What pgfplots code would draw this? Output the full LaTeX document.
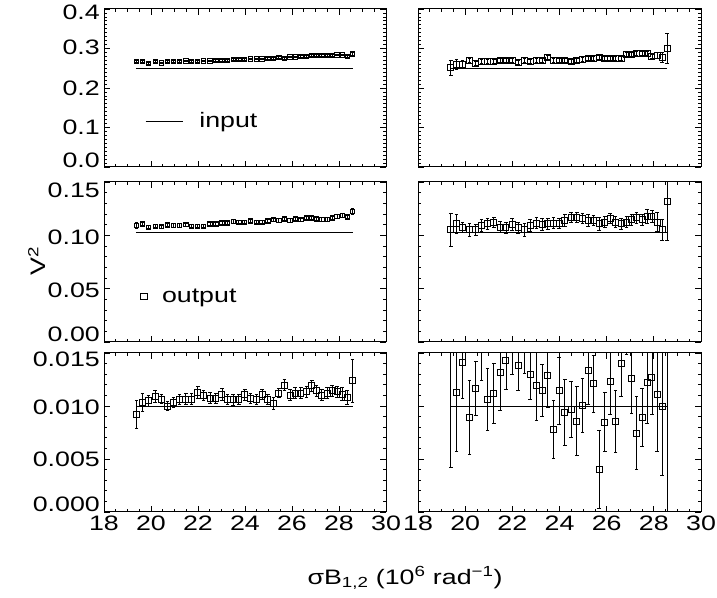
\documentclass[border=0pt]{standalone}
\usepackage{fontspec}
\setmainfont{Liberation Sans}[FakeStretch=1.28]
\usepackage{pgfplots}
\usepackage{pgfplotstable}
\pgfplotsset{compat=1.18}

\newcommand{\tf}{\fontsize{21}{24}\selectfont}
\newcommand{\yl}[2]{\smash{\raisebox{#1}{#2}}}

\pgfplotstableread{
x y e
19.39 0.2667 0.003
19.64 0.2667 0.002
19.89 0.2625 0.002
20.18 0.2667 0.002
20.45 0.2633 0.002
20.70 0.2667 0.002
20.95 0.2667 0.002
21.22 0.2667 0.002
21.48 0.2683 0.002
21.73 0.2667 0.002
21.99 0.2667 0.002
22.24 0.2683 0.002
22.51 0.2683 0.002
22.76 0.2700 0.002
23.02 0.2700 0.002
23.26 0.2700 0.002
23.50 0.2717 0.002
23.74 0.2717 0.002
23.99 0.2717 0.002
24.23 0.2733 0.002
24.49 0.2733 0.002
24.73 0.2733 0.002
24.97 0.2750 0.002
25.21 0.2750 0.002
25.44 0.2767 0.002
25.68 0.2750 0.002
25.92 0.2783 0.002
26.14 0.2783 0.002
26.38 0.2800 0.002
26.61 0.2800 0.002
26.84 0.2817 0.002
27.05 0.2817 0.002
27.27 0.2817 0.002
27.50 0.2817 0.002
27.71 0.2817 0.002
27.92 0.2833 0.002
28.14 0.2833 0.002
28.35 0.2800 0.002
28.57 0.2858 0.003
}\tabTL

\pgfplotstableread{
x y e
19.39 0.2508 0.019
19.64 0.2592 0.0125
19.89 0.2608 0.008
20.18 0.2692 0.005
20.45 0.2625 0.005
20.70 0.2675 0.005
20.95 0.2675 0.005
21.22 0.2667 0.005
21.48 0.2708 0.005
21.73 0.2692 0.005
21.99 0.2692 0.005
22.24 0.2650 0.005
22.51 0.2692 0.005
22.76 0.2667 0.005
23.02 0.2692 0.005
23.26 0.2708 0.005
23.50 0.2775 0.005
23.74 0.2708 0.005
23.99 0.2692 0.005
24.23 0.2692 0.005
24.49 0.2675 0.005
24.73 0.2708 0.005
24.97 0.2717 0.005
25.21 0.2758 0.005
25.44 0.2750 0.005
25.68 0.2775 0.005
25.92 0.2750 0.005
26.14 0.2758 0.005
26.38 0.2758 0.005
26.61 0.2758 0.005
26.84 0.2858 0.005
27.05 0.2858 0.005
27.27 0.2883 0.005
27.50 0.2883 0.005
27.71 0.2883 0.005
27.92 0.2800 0.006
28.14 0.2817 0.008
28.35 0.2775 0.0125
28.57 0.3000 0.038
}\tabTR

\pgfplotstableread{
x y e
19.39 0.1092 0.0025
19.64 0.1108 0.0015
19.89 0.1076 0.0015
20.18 0.1085 0.0015
20.45 0.1082 0.0015
20.70 0.1098 0.0015
20.95 0.1092 0.0015
21.22 0.1092 0.0015
21.48 0.1101 0.0015
21.73 0.1085 0.0015
21.99 0.1085 0.0015
22.24 0.1085 0.0015
22.51 0.1108 0.0015
22.76 0.1108 0.0015
23.02 0.1117 0.0015
23.26 0.1114 0.0015
23.50 0.1130 0.0015
23.74 0.1123 0.0015
23.99 0.1123 0.0015
24.23 0.1133 0.0015
24.49 0.1123 0.0015
24.73 0.1123 0.0015
24.97 0.1133 0.0015
25.21 0.1146 0.0015
25.44 0.1139 0.0015
25.68 0.1155 0.0015
25.92 0.1139 0.0015
26.14 0.1155 0.0015
26.38 0.1146 0.0015
26.61 0.1161 0.0015
26.84 0.1161 0.0015
27.05 0.1155 0.0015
27.27 0.1149 0.0015
27.50 0.1149 0.0015
27.71 0.1161 0.0015
27.92 0.1177 0.0015
28.14 0.1187 0.0015
28.35 0.1171 0.0015
28.57 0.1225 0.0030
}\tabML

\pgfplotstableread{
x y e
19.39 0.10506 0.0158
19.64 0.11076 0.0090
19.89 0.10760 0.0047
20.18 0.10506 0.0063
20.45 0.10506 0.0052
20.70 0.10918 0.0059
20.95 0.11076 0.0052
21.22 0.11171 0.0047
21.48 0.10760 0.0051
21.73 0.10696 0.0051
21.99 0.11013 0.0055
22.24 0.10696 0.0049
22.51 0.10506 0.0057
22.76 0.10918 0.0054
23.02 0.11139 0.0052
23.26 0.11013 0.0055
23.50 0.11076 0.0051
23.74 0.11139 0.0054
23.99 0.11139 0.0047
24.23 0.11393 0.0054
24.49 0.11709 0.0047
24.73 0.11709 0.0047
24.97 0.11551 0.0047
25.21 0.11393 0.0054
25.44 0.11393 0.0051
25.68 0.11076 0.0059
25.92 0.11234 0.0051
26.14 0.11551 0.0047
26.38 0.11234 0.0051
26.61 0.11076 0.0052
26.84 0.11234 0.0054
27.05 0.11456 0.0051
27.27 0.11646 0.0049
27.50 0.11456 0.0052
27.71 0.11773 0.0062
27.92 0.11773 0.0055
28.14 0.11234 0.0087
28.35 0.10506 0.0095
28.57 0.13133 0.0358
}\tabMR

\pgfplotstableread{
x y e
19.39 0.00920 0.00135
19.64 0.01032 0.00088
19.89 0.01048 0.00056
20.18 0.01086 0.00056
20.45 0.01064 0.00043
20.70 0.01000 0.00043
20.95 0.01032 0.00045
21.22 0.01064 0.00048
21.48 0.01064 0.00050
21.73 0.01064 0.00050
21.99 0.01127 0.00057
22.24 0.01096 0.00048
22.51 0.01073 0.00053
22.76 0.01073 0.00048
23.02 0.01111 0.00054
23.26 0.01064 0.00048
23.50 0.01057 0.00056
23.74 0.01064 0.00048
23.99 0.01105 0.00053
24.23 0.01073 0.00048
24.49 0.01064 0.00048
24.73 0.01111 0.00048
24.97 0.01064 0.00048
25.21 0.01022 0.00054
25.44 0.01121 0.00043
25.68 0.01197 0.00053
25.92 0.01102 0.00054
26.14 0.01121 0.00050
26.38 0.01121 0.00050
26.61 0.01134 0.00050
26.84 0.01191 0.00050
27.05 0.01143 0.00050
27.27 0.01102 0.00054
27.50 0.01121 0.00050
27.71 0.01143 0.00050
27.92 0.01134 0.00050
28.14 0.01111 0.00060
28.35 0.01080 0.00070
28.57 0.01239 0.00204
}\tabBL

\pgfplotstableread{
x y e
19.39 0.01600 0.01180
19.64 0.01127 0.00557
19.89 0.01414 0.00340
20.18 0.00892 0.00350
20.45 0.01162 0.00255
20.70 0.01580 0.00340
20.95 0.01064 0.00290
21.22 0.01118 0.00287
21.48 0.01315 0.00353
21.73 0.01430 0.00277
21.99 0.01620 0.00320
22.24 0.01385 0.00240
22.51 0.01580 0.00270
22.76 0.01296 0.00230
23.02 0.01191 0.00325
23.26 0.01150 0.00244
23.50 0.01290 0.00306
23.74 0.00777 0.00276
23.99 0.01143 0.00315
24.23 0.00939 0.00312
24.49 0.00971 0.00264
24.73 0.00857 0.00326
24.97 0.01006 0.00255
25.21 0.01334 0.00318
25.44 0.01210 0.00270
25.68 0.00401 0.00368
25.92 0.00847 0.00279
26.14 0.01229 0.00312
26.38 0.00853 0.00295
26.61 0.01401 0.00315
26.84 0.01800 0.00310
27.05 0.01255 0.00325
27.27 0.00745 0.00342
27.50 0.00895 0.00275
27.71 0.01220 0.00386
27.92 0.01268 0.00344
28.14 0.01111 0.00538
28.35 0.00994 0.00650
28.57 0.01800 0.03000
}\tabBR

\pgfplotsset{
  panel/.style={
    scale only axis, xmin=18, xmax=30, xtick={18,20,...,30}, minor x tick num=3,
    tick align=inside, tick pos=both,
    major tick length=6bp, minor tick length=3bp,
    axis line style={line width=1bp},
    every tick/.style={black, line width=0.7bp},
    tick label style={font=\tf},
    yticklabel style={yshift=-7.5bp, inner sep=1bp, xshift=-3bp},
    xticklabel style={inner sep=2bp, yshift=-2bp},
    /pgf/number format/assume math mode=true,
    scaled y ticks=false, scaled x ticks=false,
    clip=true,
  },
  dat/.style={only marks, black, mark=square, mark size=#1,
    mark options={line width=0.95bp, fill=none},
    error bars/.cd, y dir=both, y explicit,
    error mark options={rotate=90, mark size=1.8bp, line width=0.9bp},
    error bar style={line width=0.9bp}},
  inp/.style={black, line width=0.9bp, no marks},
}

\begin{document}
\begin{tikzpicture}
\path[use as bounding box] (0bp,0bp) rectangle (717bp,598bp);

% ---------- top row ----------
\begin{axis}[panel, at={(104bp,431bp)}, anchor=south west, width=282bp, height=158bp,
  ymin=0, ymax=0.4, ytick={0,0.1,0.2,0.3,0.4}, minor y tick num=9,
  yticklabels={\yl{7bp}{0.0},\yl{0bp}{0.1},\yl{0bp}{0.2},\yl{1bp}{0.3},\yl{-3bp}{0.4}},
  xticklabels={}]
\addplot[inp] coordinates {(19.36,0.25) (28.58,0.25)};
\addplot[dat=2.2bp] table[x=x,y=y,y error=e] {\tabTL};
\addplot[inp] coordinates {(19.77,0.115) (21.35,0.115)};
\node[anchor=base west, inner sep=0, font=\tf] at (axis cs:22.05,0.1008) {input};
\end{axis}
\begin{axis}[panel, at={(418bp,431bp)}, anchor=south west, width=283bp, height=158bp,
  ymin=0, ymax=0.4, ytick={0,0.1,0.2,0.3,0.4}, minor y tick num=9,
  yticklabels={}, xticklabels={}]
\addplot[inp] coordinates {(19.39,0.25) (28.57,0.25)};
\addplot[dat=3bp] table[x=x,y=y,y error=e] {\tabTR};
\end{axis}

% ---------- middle row ----------
\begin{axis}[panel, at={(104bp,256bp)}, anchor=south west, width=282bp, height=160bp,
  ymin=0, ymax=0.15, ytick={0,0.05,0.1,0.15}, minor y tick num=4,
  yticklabels={\yl{8bp}{0.00},\yl{-1bp}{0.05},\yl{-2bp}{0.10},\yl{-8bp}{0.15}},
  xticklabels={}]
\addplot[inp] coordinates {(19.36,0.1028) (28.58,0.1028)};
\addplot[dat=2.2bp] table[x=x,y=y,y error=e] {\tabML};
\addplot[only marks, black, mark=square, mark size=3.4bp, mark options={line width=0.7bp}] coordinates {(19.71,0.0427)};
\node[anchor=base west, inner sep=0, font=\tf] at (axis cs:20.46,0.0373) {output};
\end{axis}
\begin{axis}[panel, at={(418bp,256bp)}, anchor=south west, width=283bp, height=160bp,
  ymin=0, ymax=0.15, ytick={0,0.05,0.1,0.15}, minor y tick num=4,
  yticklabels={}, xticklabels={}]
\addplot[inp] coordinates {(19.39,0.1028) (28.57,0.1028)};
\addplot[dat=3bp] table[x=x,y=y,y error=e] {\tabMR};
\end{axis}

% ---------- bottom row ----------
\begin{axis}[panel, at={(104bp,86bp)}, anchor=south west, width=282bp, height=159bp,
  ymin=0, ymax=0.015, ytick={0,0.005,0.01,0.015}, minor y tick num=4,
  yticklabels={\yl{8bp}{0.000},\yl{0bp}{0.005},\yl{-1bp}{0.010},\yl{-6bp}{0.015}}]
\addplot[inp] coordinates {(19.36,0.010) (28.58,0.010)};
\addplot[dat=3bp] table[x=x,y=y,y error=e] {\tabBL};
\end{axis}
\begin{axis}[panel, at={(418bp,86bp)}, anchor=south west, width=283bp, height=159bp,
  ymin=0, ymax=0.015, ytick={0,0.005,0.01,0.015}, minor y tick num=4,
  yticklabels={}]
\addplot[inp] coordinates {(19.39,0.010) (28.57,0.010)};
\addplot[dat=3bp] table[x=x,y=y,y error=e] {\tabBR};
\end{axis}

\node[rotate=90, font=\tf] at (37bp,337bp) {V\textsuperscript{2}};
\node[font=\tf] at (405bp,20bp) {σB\textsubscript{1,2} (10\textsuperscript{6} rad\textsuperscript{\char"2212 1})};
\end{tikzpicture}
\end{document}
